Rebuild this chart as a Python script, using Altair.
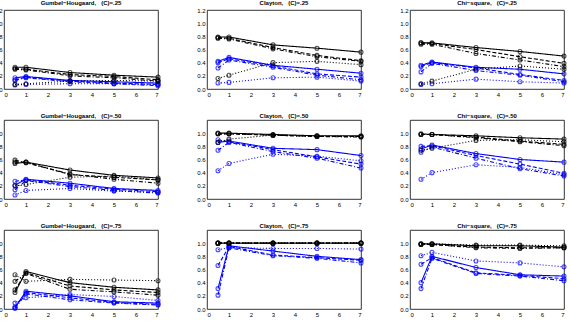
import altair as alt
import pandas as pd

# horizon values on the x axis
x_vals = [0.5, 1, 3, 5, 7]
styles = ["solid", "dashed", "dashdot", "dotted"]
copulas = ["Gumbel\u2212Hougaard", "Clayton", "Chi\u2212square"]
taus = [".25", ".50", ".75"]

# each list holds four series (solid, dashed, dash-dot, dotted) at x_vals
gh_25_black = [[0.33, 0.33, 0.25, 0.21, 0.18], [0.31, 0.30, 0.22, 0.19, 0.14],
               [0.30, 0.29, 0.20, 0.17, 0.12], [0.07, 0.08, 0.12, 0.13, 0.12]]
gh_25_blue = [[0.17, 0.19, 0.13, 0.11, 0.09], [0.14, 0.18, 0.12, 0.09, 0.07],
              [0.13, 0.17, 0.11, 0.08, 0.05], [0.06, 0.07, 0.08, 0.08, 0.07]]

cl_25_black = [[0.79, 0.79, 0.67, 0.62, 0.56], [0.78, 0.77, 0.63, 0.51, 0.43],
               [0.77, 0.76, 0.61, 0.49, 0.42], [0.16, 0.21, 0.40, 0.42, 0.37]]
cl_25_blue = [[0.42, 0.48, 0.36, 0.30, 0.24], [0.40, 0.46, 0.35, 0.23, 0.18],
              [0.32, 0.44, 0.33, 0.21, 0.14], [0.09, 0.10, 0.17, 0.18, 0.12]]

cs_25_black = [[0.70, 0.70, 0.63, 0.57, 0.50], [0.70, 0.69, 0.60, 0.49, 0.39],
               [0.68, 0.68, 0.54, 0.44, 0.34], [0.08, 0.12, 0.30, 0.35, 0.30]]
cs_25_blue = [[0.36, 0.41, 0.33, 0.30, 0.23], [0.34, 0.40, 0.32, 0.22, 0.13],
              [0.26, 0.39, 0.28, 0.21, 0.11], [0.07, 0.08, 0.15, 0.11, 0.09]]

gh_50_black = [[0.54, 0.56, 0.44, 0.36, 0.32], [0.56, 0.56, 0.37, 0.33, 0.29],
               [0.59, 0.55, 0.38, 0.30, 0.24], [0.20, 0.22, 0.33, 0.35, 0.29]]
gh_50_blue = [[0.21, 0.30, 0.24, 0.16, 0.13], [0.27, 0.29, 0.21, 0.15, 0.11],
              [0.14, 0.28, 0.19, 0.13, 0.09], [0.06, 0.13, 0.16, 0.12, 0.10]]

cl_50_black = [[1.00, 1.00, 0.98, 0.96, 0.96], [0.99, 0.99, 0.97, 0.95, 0.95],
               [0.99, 0.99, 0.97, 0.95, 0.94], [0.86, 0.91, 0.97, 0.96, 0.95]]
cl_50_blue = [[0.86, 0.88, 0.77, 0.75, 0.66], [0.90, 0.87, 0.75, 0.64, 0.53],
              [0.74, 0.86, 0.72, 0.62, 0.47], [0.43, 0.54, 0.68, 0.65, 0.58]]

cs_50_black = [[0.99, 0.98, 0.96, 0.93, 0.91], [0.98, 0.98, 0.94, 0.88, 0.83],
               [0.98, 0.98, 0.93, 0.87, 0.81], [0.74, 0.77, 0.89, 0.90, 0.87]]
cs_50_blue = [[0.76, 0.82, 0.69, 0.60, 0.56], [0.80, 0.81, 0.66, 0.53, 0.39],
              [0.71, 0.79, 0.62, 0.46, 0.35], [0.30, 0.40, 0.52, 0.48, 0.37]]

gh_75_black = [[0.25, 0.57, 0.40, 0.33, 0.29], [0.29, 0.55, 0.35, 0.29, 0.25],
               [0.42, 0.54, 0.30, 0.26, 0.21], [0.52, 0.42, 0.45, 0.44, 0.43]]
gh_75_blue = [[0.02, 0.27, 0.20, 0.11, 0.09], [0.03, 0.25, 0.17, 0.10, 0.07],
              [0.01, 0.23, 0.14, 0.09, 0.06], [0.09, 0.17, 0.22, 0.19, 0.13]]

cl_75_black = [[1.00, 1.00, 1.00, 1.00, 1.00], [1.00, 1.00, 1.00, 1.00, 1.00],
               [1.00, 1.00, 1.00, 1.00, 1.00], [1.00, 1.00, 1.00, 1.00, 1.00]]
cl_75_blue = [[0.31, 0.96, 0.88, 0.80, 0.75], [0.66, 0.95, 0.82, 0.78, 0.74],
              [0.21, 0.93, 0.81, 0.77, 0.70], [0.90, 0.93, 0.92, 0.92, 0.91]]

cs_75_black = [[0.99, 0.99, 0.96, 0.96, 0.94], [0.98, 0.98, 0.94, 0.93, 0.93],
               [0.98, 0.98, 0.93, 0.92, 0.93], [0.99, 0.99, 0.97, 0.97, 0.96]]
cs_75_blue = [[0.40, 0.80, 0.63, 0.52, 0.50], [0.68, 0.78, 0.55, 0.51, 0.46],
              [0.31, 0.77, 0.54, 0.50, 0.43], [0.81, 0.86, 0.73, 0.70, 0.64]]

panels = {
    (0, 0): (gh_25_black, gh_25_blue), (0, 1): (cl_25_black, cl_25_blue),
    (0, 2): (cs_25_black, cs_25_blue), (1, 0): (gh_50_black, gh_50_blue),
    (1, 1): (cl_50_black, cl_50_blue), (1, 2): (cs_50_black, cs_50_blue),
    (2, 0): (gh_75_black, gh_75_blue), (2, 1): (cl_75_black, cl_75_blue),
    (2, 2): (cs_75_black, cs_75_blue),
}

FONT = "Liberation Sans"
colour_scale = alt.Scale(domain=["blue", "black"], range=["#0000ff", "#000000"])
dash_scale = alt.Scale(domain=styles, range=[[1, 0], [4, 2], [4, 2, 1, 2], [1, 2]])
GAP = "\u00a0\u00a0\u00a0"


def panel(row, col):
    black, blue = panels[(row, col)]
    records = []
    for colour, series in (("blue", blue), ("black", black)):
        for style, values in zip(styles, series):
            for x, y in zip(x_vals, values):
                records.append({"colour": colour, "style": style,
                                "sid": colour + style, "x": x, "y": y})
    df = pd.DataFrame(records)
    y_ticks = [0, 0.2, 0.4, 0.6, 0.8, 1, 1.2] if row == 0 else [0, 0.2, 0.4, 0.6, 0.8, 1]
    x_enc = alt.X("x:Q", scale=alt.Scale(domain=[0, 7], nice=False),
                  axis=alt.Axis(values=list(range(8)), title=None))
    y_enc = alt.Y("y:Q", scale=alt.Scale(domain=[0, 1.2], nice=False),
                  axis=alt.Axis(values=y_ticks, title=None))
    colour = alt.Color("colour:N", scale=colour_scale, legend=None)
    base = alt.Chart(df).encode(x=x_enc, y=y_enc, color=colour, detail="sid:N")
    lines = base.mark_line(strokeWidth=1.1).encode(
        strokeDash=alt.StrokeDash("style:N", scale=dash_scale, legend=None))
    points = base.mark_point(shape="circle", filled=False, size=16, strokeWidth=1.1)
    title = f"{copulas[col]},{GAP}(C)={taus[row]}"
    return alt.layer(lines, points).properties(
        width=154, height=79,
        title=alt.TitleParams(title, fontSize=6, fontWeight="bold", font=FONT, offset=1),
    )


chart = alt.concat(
    *[panel(r, c) for r in range(3) for c in range(3)],
    columns=3, spacing={"row": 31, "column": 49}, bounds="flush",
).properties(
    padding={"left": -7, "top": -1, "right": 0, "bottom": 0}
).configure_view(stroke="black", strokeWidth=0.8).configure_axis(
    labelFont=FONT, labelFontSize=6, labelColor="black", labelPadding=2,
    tickSize=0, domain=False, grid=False,
).configure_title(color="black")

chart.save("out.html", embed_options={"renderer": "svg", "actions": False})
